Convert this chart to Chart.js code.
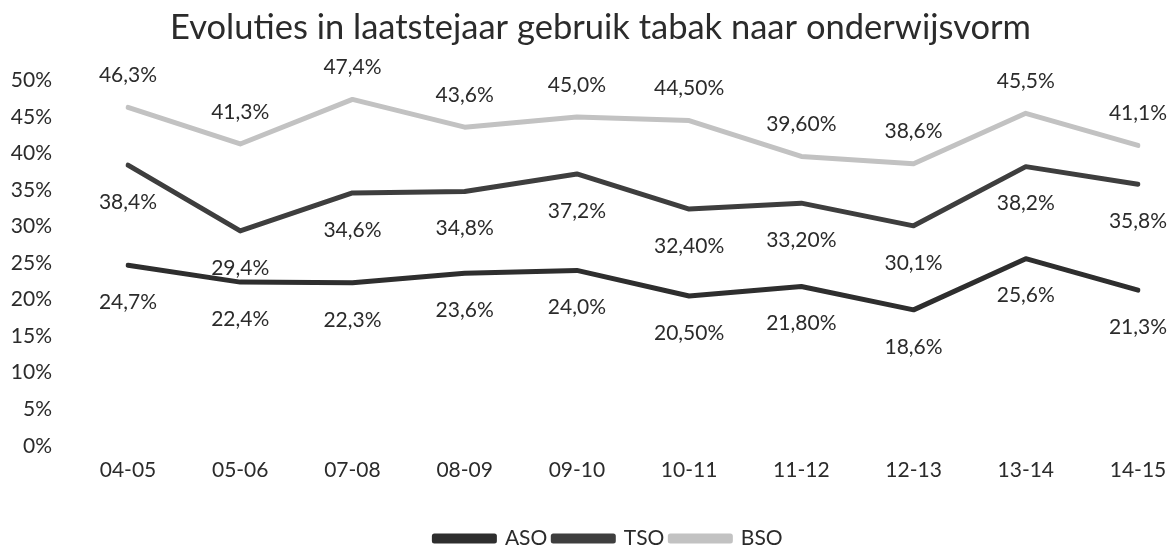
<!DOCTYPE html>
<html>
<head>
<meta charset="utf-8">
<script src="https://cdn.jsdelivr.net/npm/chart.js@4/dist/chart.umd.min.js"></script>
<style>
  html, body { margin: 0; padding: 0; background: #ffffff; }
  #wrap { width: 1167px; height: 548px; }
</style>
</head>
<body>
<div id="wrap"><canvas id="c" width="1167" height="548"></canvas></div>
<script>
const categories = ['04-05', '05-06', '07-08', '08-09', '09-10', '10-11', '11-12', '12-13', '13-14', '14-15'];
const asoValues = [24.7, 22.4, 22.3, 23.6, 24.0, 20.5, 21.8, 18.6, 25.6, 21.3];
const tsoValues = [38.4, 29.4, 34.6, 34.8, 37.2, 32.4, 33.2, 30.1, 38.2, 35.8];
const bsoValues = [46.3, 41.3, 47.4, 43.6, 45.0, 44.5, 39.6, 38.6, 45.5, 41.1];
const asoLabels = ['24,7%', '22,4%', '22,3%', '23,6%', '24,0%', '20,50%', '21,80%', '18,6%', '25,6%', '21,3%'];
const tsoLabels = ['38,4%', '29,4%', '34,6%', '34,8%', '37,2%', '32,40%', '33,20%', '30,1%', '38,2%', '35,8%'];
const bsoLabels = ['46,3%', '41,3%', '47,4%', '43,6%', '45,0%', '44,50%', '39,60%', '38,6%', '45,5%', '41,1%'];
const yTicks = [0, 5, 10, 15, 20, 25, 30, 35, 40, 45, 50];

const FONT = 'Lato, "Open Sans", sans-serif';
const TEXT = '#2b2b2b';
const SIZE = 21;

const labelPlugin = {
  id: 'valueLabels',
  afterDatasetsDraw(chart) {
    const ctx = chart.ctx;
    ctx.save();
    ctx.font = SIZE + 'px ' + FONT;
    ctx.fillStyle = TEXT;
    ctx.textAlign = 'center';
    ctx.textBaseline = 'middle';
    chart.data.datasets.forEach((ds, di) => {
      const meta = chart.getDatasetMeta(di);
      meta.data.forEach((pt, i) => {
        const dy = ds.labelPos === 'above' ? -32 : 37;
        ctx.fillText(ds.valueLabels[i], pt.x, pt.y + dy);
      });
    });
    ctx.restore();
  }
};

const shiftPlugin = {
  id: 'shiftBlocks',
  afterLayout(chart) {
    if (chart.titleBlock) {
      chart.titleBlock.left += 17; chart.titleBlock.right += 17;
    }
    if (chart.legend) {
      chart.legend.left += 25; chart.legend.right += 25;
      chart.legend.top += 27; chart.legend.bottom += 27;
    }
  }
};

new Chart(document.getElementById('c'), {
  type: 'line',
  data: {
    labels: categories,
    datasets: [
      { label: 'ASO', data: asoValues, valueLabels: asoLabels, labelPos: 'below',
        borderColor: '#2e2e2e', backgroundColor: '#555555', borderWidth: 5,
        pointRadius: 0, tension: 0, borderCapStyle: 'round', borderJoinStyle: 'round' },
      { label: 'TSO', data: tsoValues, valueLabels: tsoLabels, labelPos: 'below',
        borderColor: '#3e3e3e', backgroundColor: '#404040', borderWidth: 5,
        pointRadius: 0, tension: 0, borderCapStyle: 'round', borderJoinStyle: 'round' },
      { label: 'BSO', data: bsoValues, valueLabels: bsoLabels, labelPos: 'above',
        borderColor: '#c2c2c2', backgroundColor: '#b5b5b5', borderWidth: 5,
        pointRadius: 0, tension: 0, borderCapStyle: 'round', borderJoinStyle: 'round' }
    ]
  },
  options: {
    responsive: false,
    animation: false,
    layout: { padding: { left: 0, right: 0, top: 0, bottom: 16 } },
    plugins: {
      title: {
        display: true,
        text: 'Evoluties in laatstejaar gebruik tabak naar onderwijsvorm',
        color: TEXT,
        font: { family: FONT, size: 34.5, weight: 'normal' },
        padding: { top: 7, bottom: 32 }
      },
      legend: {
        display: true,
        position: 'bottom',
        labels: {
          color: TEXT,
          font: { family: FONT, size: SIZE },
          boxWidth: 60,
          boxHeight: 5,
          padding: 6
        }
      },
      tooltip: { enabled: false }
    },
    scales: {
      x: {
        offset: false,
        grid: { display: false, drawTicks: false },
        border: { display: false },
        ticks: { color: TEXT, font: { family: FONT, size: SIZE }, padding: 12, maxRotation: 0, autoSkip: false },
        afterFit(scale) { scale.paddingRight = 29; scale.paddingLeft = 0; }
      },
      y: {
        min: 0, max: 50,
        grid: { display: false, drawTicks: false },
        border: { display: false },
        afterBuildTicks(scale) { scale.ticks = yTicks.map(v => ({ value: v })); },
        afterFit(scale) { scale.width = 128; scale.paddingTop = 0; scale.paddingBottom = 0; },
        ticks: { color: TEXT, font: { family: FONT, size: SIZE }, padding: 76,
          callback: v => v + '%' }
      }
    }
  },
  plugins: [labelPlugin, shiftPlugin]
});
</script>
</body>
</html>
